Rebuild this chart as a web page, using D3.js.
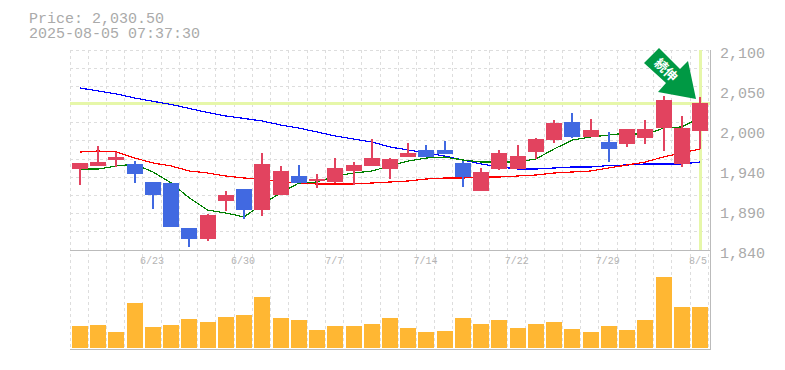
<!DOCTYPE html>
<html>
<head>
<meta charset="utf-8">
<script src="https://cdn.jsdelivr.net/npm/d3@7/dist/d3.min.js"></script>
<style>
  html, body { margin: 0; padding: 0; background: #fff; }
  svg { display: block; }
  text { font-family: "Liberation Mono", monospace; }
</style>
</head>
<body>
<svg id="chart" width="785" height="370"></svg>
<script>
// candles, oldest first
const opens  = [1945.3, 1949.2, 1957.0, 1951.8, 1928.4, 1927.1, 1868.6, 1854.3, 1903.7, 1919.3, 1892.0, 1911.5,
                1936.2, 1929.7, 1928.4, 1942.7, 1949.2, 1945.3, 1961.0, 1970.0, 1970.0, 1953.1, 1916.7, 1945.3,
                1945.3, 1967.4, 1983.0, 2006.4, 1986.9, 1980.4, 1977.8, 1985.6, 1998.6, 1951.8, 1994.7];
const closes = [1953.1, 1954.4, 1961.0, 1938.8, 1911.5, 1869.9, 1854.3, 1885.5, 1911.5, 1892.0, 1951.8, 1942.7,
                1927.1, 1932.3, 1946.6, 1950.5, 1959.6, 1958.3, 1966.1, 1961.0, 1964.8, 1935.0, 1941.4, 1966.1,
                1962.2, 1984.3, 2005.1, 1987.0, 1996.0, 1971.3, 1997.3, 1997.3, 2035.0, 1998.6, 2030.5];
const highs  = [1953.1, 1975.2, 1967.4, 1955.7, 1928.4, 1927.1, 1868.6, 1886.8, 1916.7, 1919.3, 1966.1, 1949.2,
                1950.5, 1938.8, 1959.6, 1954.4, 1984.3, 1959.6, 1979.1, 1976.5, 1981.7, 1955.7, 1946.6, 1970.0,
                1976.5, 1985.6, 2009.0, 2018.1, 2010.3, 1993.4, 1997.3, 2009.0, 2040.2, 2014.2, 2038.9];
const lows   = [1924.5, 1949.2, 1947.9, 1927.1, 1893.3, 1869.9, 1843.9, 1851.7, 1890.7, 1880.3, 1884.2, 1911.5,
                1927.1, 1920.6, 1927.1, 1924.5, 1949.2, 1932.3, 1961.0, 1961.0, 1964.8, 1921.9, 1916.7, 1944.0,
                1945.3, 1958.3, 1979.1, 1985.6, 1986.9, 1954.4, 1973.9, 1977.8, 1968.7, 1947.9, 1971.3];

// moving averages
const maShort = [1945.3, 1945.3, 1949.2, 1951.8, 1941.4, 1927.1, 1907.6, 1892.0, 1888.1, 1883.0, 1899.8, 1914.0,
                 1927.1, 1928.4, 1936.2, 1940.1, 1942.7, 1949.2, 1955.7, 1959.6, 1960.9, 1957.0, 1954.4, 1954.4,
                 1954.4, 1958.3, 1971.3, 1983.0, 1986.9, 1989.5, 1992.1, 1989.5, 1998.6, 2000.0, 2011.6];
const maMid   = [1967.4, 1968.7, 1967.4, 1959.6, 1953.1, 1949.2, 1942.7, 1940.1, 1936.2, 1933.6, 1932.3, 1928.4,
                 1927.1, 1925.8, 1925.8, 1925.8, 1927.1, 1928.4, 1929.7, 1932.3, 1933.6, 1933.6, 1934.9, 1934.9,
                 1936.2, 1937.5, 1940.1, 1941.4, 1942.7, 1946.6, 1950.5, 1954.4, 1961.0, 1966.1, 1971.3];
const maLong  = [2050.6, 2046.7, 2042.8, 2037.6, 2033.3, 2029.2, 2024.0, 2018.8, 2014.2, 2011.0, 2007.7, 2002.5,
                 1998.6, 1993.4, 1988.2, 1984.3, 1980.4, 1973.9, 1970.0, 1966.1, 1962.2, 1957.0, 1951.8, 1947.9,
                 1945.3, 1945.3, 1946.6, 1947.9, 1947.9, 1949.8, 1950.5, 1951.8, 1951.8, 1951.8, 1954.4];

const volumes = [22, 23, 16, 45, 21, 23, 29, 26, 31, 33, 51, 30, 28, 18, 22, 22, 24, 30,
                 20, 16, 17, 30, 24, 28, 20, 24, 26, 19, 16, 22, 18, 28, 71, 41, 41];

const dateIndex  = [4, 9, 14, 19, 24, 29, 34];
const dateLabels = ["6/23", "6/30", "7/7", "7/14", "7/22", "7/29", "8/5"];
// axis steps are 52 apart, the printed labels are rounded to tens
const priceTicks  = [2100, 2048, 1996, 1944, 1892, 1840];
const priceLabels = ["2,100", "2,050", "2,000", "1,940", "1,890", "1,840"];
const lastPrice = 2030.5;
const titleLines = ["Price: 2,030.50", "2025-08-05 07:37:30"];

const svg = d3.select("#chart");
const idx = d3.range(opens.length);

const x = d3.scalePoint().domain(idx).range([80, 700]);
const y = d3.scaleLinear().domain([1840, 2100]).range([250, 50]);
const yVol = d3.scaleLinear().domain([0, 98]).range([348, 250]);

// grid
const grid = svg.append("g")
    .attr("stroke", "#ddd").attr("stroke-dasharray", "3,3")
    .attr("shape-rendering", "crispEdges");

grid.selectAll("line.v").data(idx).enter().append("line")
    .attr("x1", d => Math.floor(x(d) - 10) + 0.5)
    .attr("x2", d => Math.floor(x(d) - 10) + 0.5)
    .attr("y1", 50).attr("y2", 350);
grid.append("line")
    .attr("x1", 708.5).attr("x2", 708.5).attr("y1", 50).attr("y2", 350);

grid.selectAll("line.h").data(d3.range(11)).enter().append("line")
    .attr("x1", 70).attr("x2", 710)
    .attr("y1", d => Math.floor(50 + d * 200 / 11) + 0.5)
    .attr("y2", d => Math.floor(50 + d * 200 / 11) + 0.5);

// last price cross
svg.append("rect").attr("x", 70).attr("y", Math.round(y(lastPrice)) - 1)
    .attr("width", 640).attr("height", 3).attr("fill", "#e6f7a9");
svg.append("rect").attr("x", x(34) - 1).attr("y", 50)
    .attr("width", 3).attr("height", 200).attr("fill", "#e6f7a9");

// moving averages go under the candles
const maLine = d3.line().x((d, i) => x(i)).y(d => y(d));
[[maLong, "#0000ff"], [maMid, "#ff0000"], [maShort, "#008000"]].forEach(s => {
    svg.append("path").datum(s[0])
        .attr("d", maLine)
        .attr("fill", "none")
        .attr("stroke", s[1])
        .attr("stroke-width", 1.2)
        .attr("shape-rendering", "crispEdges");
});

// candles
const candle = svg.selectAll("g.candle").data(idx).enter().append("g")
    .attr("class", "candle")
    .attr("shape-rendering", "crispEdges")
    .attr("fill", d => closes[d] >= opens[d] ? "#e2435f" : "#4169e1");

candle.append("rect")
    .attr("x", d => Math.round(x(d)) - 1)
    .attr("width", 2)
    .attr("y", d => Math.round(y(highs[d])))
    .attr("height", d => Math.round(y(lows[d])) - Math.round(y(highs[d])));

candle.append("rect")
    .attr("x", d => Math.round(x(d) - 8))
    .attr("width", 16)
    .attr("y", d => Math.round(y(Math.max(opens[d], closes[d]))))
    .attr("height", d => Math.round(y(Math.min(opens[d], closes[d]))) - Math.round(y(Math.max(opens[d], closes[d]))));

// volume
svg.selectAll("rect.vol").data(idx).enter().append("rect")
    .attr("class", "vol")
    .attr("x", d => Math.round(x(d) - 8))
    .attr("width", 16)
    .attr("y", d => Math.round(yVol(volumes[d])))
    .attr("height", d => 348 - Math.round(yVol(volumes[d])))
    .attr("fill", "#ffb733");

// frame
const frame = svg.append("g").attr("stroke", "#bbb").attr("stroke-width", 1)
    .attr("shape-rendering", "crispEdges");
frame.append("line").attr("x1", 70).attr("x2", 710).attr("y1", 250.5).attr("y2", 250.5);
frame.append("line").attr("x1", 70).attr("x2", 710).attr("y1", 349.5).attr("y2", 349.5);
frame.append("line").attr("x1", 710.5).attr("x2", 710.5).attr("y1", 50).attr("y2", 350);

// arrow marker on the last candle
const arrowPts = [[659, 48], [680, 69], [688, 61], [696, 99], [658, 92], [666, 83], [644, 63]];
svg.append("polygon")
    .attr("points", arrowPts.map(p => p.join(",")).join(" "))
    .attr("fill", "#009944");
svg.append("text")
    .attr("transform", "translate(666,70) rotate(45)")
    .attr("text-anchor", "middle")
    .attr("dy", "0.35em")
    .attr("fill", "#fff")
    .attr("font-size", 13)
    .attr("font-weight", "bold")
    .style("font-family", '"Noto Sans CJK JP"')
    .text("続伸");

// texts
svg.selectAll("text.title").data(titleLines).enter().append("text")
    .attr("class", "title")
    .attr("x", 29)
    .attr("y", (d, i) => 23 + i * 15)
    .attr("font-size", 15)
    .attr("fill", "#aaa")
    .text(d => d);

svg.selectAll("text.price").data(priceTicks).enter().append("text")
    .attr("class", "price")
    .attr("x", 720)
    .attr("y", d => y(d) + 8)
    .attr("font-size", 15)
    .attr("fill", "#aaa")
    .text((d, i) => priceLabels[i]);

svg.selectAll("text.date").data(dateLabels).enter().append("text")
    .attr("class", "date")
    .attr("x", (d, i) => Math.min(x(dateIndex[i]) - 1, 698))
    .attr("y", 264)
    .attr("text-anchor", "middle")
    .attr("font-size", 10)
    .attr("fill", "#b4b4b4")
    .text(d => d);
</script>
</body>
</html>
